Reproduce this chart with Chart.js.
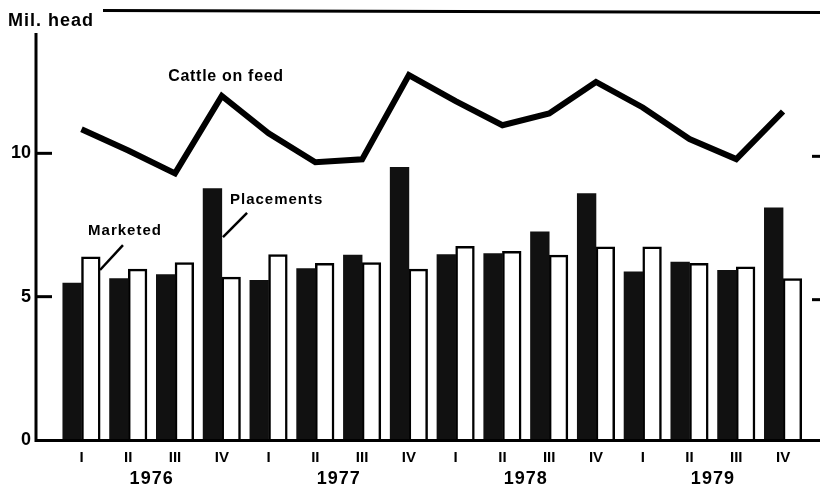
<!DOCTYPE html>
<html><head><meta charset="utf-8">
<script src="https://cdn.jsdelivr.net/npm/chart.js@4.4.1/dist/chart.umd.min.js"></script>
<style>html,body{margin:0;padding:0;background:#fff;}canvas{display:block;}</style>
</head><body>
<canvas id="c" width="820" height="493"></canvas>
<script>
// ---- data ----
const quarters = ['I','II','III','IV','I','II','III','IV','I','II','III','IV','I','II','III','IV'];
const years = ['1976','1977','1978','1979'];
const placements = [5.47,5.63,5.77,8.77, 5.57,5.98,6.45,9.51, 6.47,6.50,7.26,8.60, 5.87,6.21,5.92,8.10];
const marketed   = [6.39,5.96,6.19,5.68, 6.47,6.16,6.19,5.96, 6.76,6.58,6.45,6.74, 6.74,6.16,6.04,5.63];
const cattleOnFeed = [10.84,10.10,9.30,12.00, 10.70,9.69,9.79,12.73, 11.82,10.98,11.39,12.49, 11.60,10.50,9.80,11.46];
const yTicks = [0,5,10];
const unitLabel = 'Mil. head';

// annotations in data coordinates (quarter index, value)
const notes = [
  {text:'Cattle on feed', x:3.09, y:12.66, align:'center', size:16, spacing:0.7},
  {text:'Placements', x:3.175, y:8.37, align:'left', size:15, spacing:1},
  {text:'Marketed', x:0.93, y:7.29, align:'center', size:15, spacing:1}
];
const leaders = [
  {from:[0.887,6.80], to:[0.396,5.93]},
  {from:[3.54,7.92], to:[3.025,7.08]}
];

const FONT = '"Liberation Sans", Arial, Helvetica, sans-serif';
const idx = quarters.map((_, i) => i);

const decor = {
  id:'decor',
  afterDatasetsDraw(chart){
    const ctx = chart.ctx, xs = chart.scales.x, ys = chart.scales.y;
    const ca = chart.chartArea;
    ctx.save();
    ctx.strokeStyle = '#000'; ctx.fillStyle = '#000';
    ctx.lineCap = 'butt';
    ctx.lineWidth = 3;
    // left axis
    ctx.beginPath(); ctx.moveTo(ca.left + 1, ys.getPixelForValue(14.2)); ctx.lineTo(ca.left + 1, ys.getPixelForValue(0) + 2); ctx.stroke();
    // baseline
    ctx.beginPath(); ctx.moveTo(ca.left, ys.getPixelForValue(0) + 0.5); ctx.lineTo(ca.right, ys.getPixelForValue(0) + 0.5); ctx.stroke();
    // top frame line
    ctx.beginPath(); ctx.moveTo(103, ys.getPixelForValue(15) + 0.5); ctx.lineTo(ca.right, ys.getPixelForValue(15) + 2.5); ctx.stroke();
    // tick marks (inside, left and right)
    yTicks.filter(v => v > 0).forEach(v => {
      const py = ys.getPixelForValue(v);
      ctx.beginPath(); ctx.moveTo(ca.left, py); ctx.lineTo(ca.left + 17, py); ctx.stroke();
      ctx.beginPath(); ctx.moveTo(ca.right - 8, py + 3); ctx.lineTo(ca.right, py + 3); ctx.stroke();
    });
    // unit label
    ctx.font = 'bold 18px ' + FONT;
    ctx.letterSpacing = '1px';
    ctx.textAlign = 'left'; ctx.textBaseline = 'alphabetic';
    ctx.fillText(unitLabel, 8, 26);
    // year labels
    ctx.font = 'bold 18px ' + FONT;
    ctx.textAlign = 'center'; ctx.textBaseline = 'middle';
    years.forEach((yr, k) => {
      const px = (xs.getPixelForValue(k*4 + 1) + xs.getPixelForValue(k*4 + 2)) / 2;
      ctx.fillText(yr, px, ys.getPixelForValue(0) + 39);
    });
    // notes
    notes.forEach(n => {
      ctx.font = 'bold ' + n.size + 'px ' + FONT;
      ctx.letterSpacing = n.spacing + 'px';
      ctx.textAlign = n.align; ctx.textBaseline = 'middle';
      ctx.fillText(n.text, xs.getPixelForValue(n.x), ys.getPixelForValue(n.y));
    });
    ctx.letterSpacing = '0px';
    ctx.lineWidth = 2.5;
    leaders.forEach(l => {
      ctx.beginPath();
      ctx.moveTo(xs.getPixelForValue(l.from[0]), ys.getPixelForValue(l.from[1]));
      ctx.lineTo(xs.getPixelForValue(l.to[0]), ys.getPixelForValue(l.to[1]));
      ctx.stroke();
    });
    ctx.restore();
  }
};

new Chart(document.getElementById('c'), {
  type:'bar',
  data:{
    datasets:[
      {type:'line', label:'Cattle on feed', data: idx.map(i => ({x:i, y:cattleOnFeed[i]})),
       borderColor:'#000', borderWidth:6, pointRadius:0, tension:0, fill:false,
       borderJoinStyle:'miter', borderCapStyle:'butt', order:0},
      {label:'Placements', data: idx.map(i => ({x:i, y:placements[i]})),
       backgroundColor:'#111', borderWidth:0, barThickness:18.7, order:1},
      {label:'Marketed', data: idx.map(i => ({x:i, y:marketed[i]})),
       backgroundColor:'#fff', borderColor:'#000', borderWidth:2.5, barThickness:18.7, order:1}
    ]
  },
  options:{
    responsive:false, animation:false, devicePixelRatio:1,
    layout:{padding:{top:10, right:0, left:0, bottom:0}},
    plugins:{legend:{display:false}, tooltip:{enabled:false}},
    scales:{
      x:{type:'linear', min:-0.994, max:15.79, offset:false,
        grid:{display:false, drawTicks:false}, border:{display:false},
        afterBuildTicks: s => { s.ticks = idx.map(i => ({value:i})); },
        afterFit: s => { s.height = 53; s.paddingLeft = 0; s.paddingRight = 0; },
        ticks:{autoSkip:false, maxRotation:0, minRotation:0, padding:9, color:'#000',
          font:{family:FONT, size:15, weight:'bold'},
          callback:(v) => quarters[v] !== undefined ? quarters[v] : ''}
      },
      y:{min:0, max:15,
        grid:{display:false, drawTicks:false}, border:{display:false},
        afterBuildTicks: s => { s.ticks = yTicks.map(v => ({value:v})); },
        afterFit: s => { s.width = 35; s.paddingTop = 0; s.paddingBottom = 0; },
        ticks:{padding:4, color:'#000', font:{family:FONT, size:18, weight:'bold'}}
      }
    }
  },
  plugins:[decor]
});
</script>
</body></html>
